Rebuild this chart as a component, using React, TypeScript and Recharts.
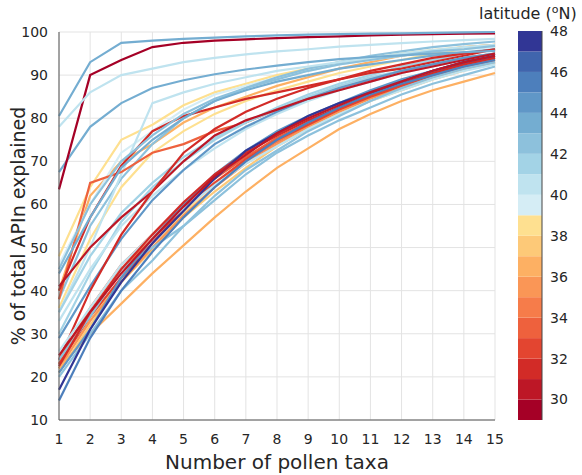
import { LineChart, Line, XAxis, YAxis, CartesianGrid, BarChart, Bar } from "recharts";

const TAXA = [1, 2, 3, 4, 5, 6, 7, 8, 9, 10, 11, 12, 13, 14, 15];
const Y_TICKS = [10, 20, 30, 40, 50, 60, 70, 80, 90, 100];
const LAT_TICKS = [30, 32, 34, 36, 38, 40, 42, 44, 46, 48];

// one colour per 1-degree latitude band, 29 -> 47
const LAT_BANDS = [29, 30, 31, 32, 33, 34, 35, 36, 37, 38, 39, 40, 41, 42, 43, 44, 45, 46, 47];
const BAND_COLORS = [
  "#a50026", "#bd1726", "#d22b27", "#e34530", "#ee613d", "#f67c4a", "#fa9656",
  "#fdb063", "#fdc978", "#fee090", "#d5edf5", "#bfe3ef", "#a3d3e6", "#8dc1dc",
  "#74add1", "#6097c7", "#4d7fbc", "#4065ad", "#313695",
];

// site latitude for each curve
const LATS = [
  41, 38, 38, 36, 39, 42, 40, 33, 31, 43, 42, 41, 40, 44,
  30, 31, 38, 37, 35, 34, 33, 32, 36, 42, 40, 44, 31, 42,
  45, 47, 30, 43, 29, 43, 40,
];

// cumulative % explained, x = 1..15 taxa
const CURVES = [
  [30, 44, 56, 64, 70, 75, 79, 82.5, 85.5, 88, 90, 92, 93.5, 95, 96],
  [48, 64, 75, 78.5, 83, 86, 88, 90, 91.5, 93, 94, 95, 95.8, 96.5, 97],
  [36, 52, 64, 72, 77, 81, 84, 86.5, 88.5, 90.5, 92, 93.5, 95, 96, 97],
  [40, 62, 70, 74, 79, 82.5, 85, 87.5, 89.5, 91.5, 93, 94.5, 95.5, 96.5, 97],
  [46, 60, 72, 77, 82, 85.5, 87.5, 89.5, 91, 92.5, 93.5, 94.5, 95.5, 96, 96.5],
  [38, 55, 66, 74, 80, 84, 87, 89.5, 91.5, 93, 94.5, 95.5, 96.5, 97.2, 97.8],
  [35, 50, 67, 83.5, 86, 88, 89.5, 91, 92, 93, 94, 95, 95.8, 96.5, 97],
  [38, 65, 67.5, 72, 74, 77, 79, 82, 84.5, 87, 89, 91, 92.5, 94, 95],
  [40, 57, 69, 77, 80.5, 82.5, 84.5, 86, 87.5, 89, 90.5, 91.5, 93, 94.5, 96],
  [44, 57, 68.5, 75, 80, 84, 86.5, 88.5, 90, 91.5, 92.5, 93.5, 94.5, 95.3, 96],
  [45, 60, 70, 76, 81, 84.5, 87, 89, 91, 92.5, 93.5, 94.5, 95.5, 96, 96.8],
  [35, 48, 58, 65, 71, 75.5, 79, 82, 85, 87.5, 89.5, 91, 92.5, 94, 95],
  [33, 45, 55, 62, 68, 73, 77.5, 81, 84, 86.5, 88.5, 90.5, 92, 93.5, 94.5],
  [29, 41, 52, 61, 68, 74, 78, 81.5, 84.5, 87, 89, 91, 92.5, 94, 95],
  [41, 50, 57, 63, 70, 76, 79.5, 82, 84.5, 86.5, 88.5, 90.5, 92, 93.5, 95],
  [24, 40, 53, 63, 72, 77.5, 81.5, 84.5, 87, 89, 91, 92.5, 94, 95, 96],
  [22, 33, 43, 50, 58, 65, 70, 75, 79, 82, 85, 87.5, 90, 92, 93.5],
  [21, 32, 42, 49.5, 57, 63, 68.5, 73.5, 77.5, 81, 84, 86.5, 89, 91, 93],
  [22, 33, 42, 50, 57.5, 64, 69.5, 74, 78, 81.5, 84.5, 87, 89.5, 91.5, 93],
  [23, 35, 45, 52, 59, 65, 70, 74.5, 78.5, 82, 85, 87.5, 90, 92, 93.5],
  [24, 36, 46, 53, 60, 66, 71, 75.5, 79, 82.5, 85.5, 88, 90.5, 92.5, 94],
  [23, 34, 43, 51, 59, 65, 70.5, 75, 78.5, 82, 85, 87.5, 90, 92, 93.5],
  [22, 30, 37, 44, 50.5, 57, 63, 68.5, 73, 77.5, 81, 84, 86.5, 88.5, 90.5],
  [24, 34, 45, 50, 55, 61, 67, 72, 76, 79.5, 82.5, 85.5, 88, 90, 92],
  [26, 36, 46, 53, 59, 64.5, 69.5, 73.5, 77.5, 81, 84, 86.5, 89, 91, 92.5],
  [21, 31, 43, 52, 60, 67, 72.5, 77, 80.5, 83.5, 86.5, 89, 91, 93, 94.5],
  [22.5, 35, 45, 53, 60.5, 67, 72, 76, 79.5, 82.5, 85.5, 88, 90.5, 92.5, 94],
  [20, 30, 40, 47, 55, 62, 68, 72.5, 77, 80.5, 84, 87, 89.5, 91.5, 93],
  [14.5, 29, 40, 49, 57, 64, 70, 75, 79, 82.5, 85.5, 88, 90, 92, 93.5],
  [17, 31, 42, 51, 58.5, 66, 72.5, 76.5, 80.5, 83.5, 86, 88.5, 91, 93, 94.5],
  [25, 35, 44, 52, 59.5, 66.5, 71.5, 76.5, 80, 83, 86, 88.5, 91, 93, 94.5],
  [67.5, 78, 83.5, 87, 88.8, 90.2, 91.3, 92.2, 93, 93.7, 94.2, 94.6, 95, 95.3, 95.6],
  [63.5, 90, 93.5, 96.5, 97.5, 98, 98.3, 98.6, 98.8, 99, 99.2, 99.4, 99.5, 99.6, 99.7],
  [80.5, 93, 97.5, 98, 98.4, 98.7, 99, 99.2, 99.4, 99.5, 99.6, 99.7, 99.8, 99.9, 100],
  [78, 86, 90, 91.5, 93, 94, 94.8, 95.5, 96, 96.6, 97, 97.4, 97.8, 98.1, 98.4],
];

const rows = TAXA.map((x, i) => {
  const row: Record<string, number> = { x };
  CURVES.forEach((c, k) => {
    row["s" + k] = c[i];
  });
  return row;
});

const barRow: Record<string, number | string> = { name: "lat", base: LAT_BANDS[0] };
LAT_BANDS.forEach((b) => {
  barRow["b" + b] = 1;
});

const FONT = "'DejaVu Sans', sans-serif";
const INK = "#262626";
const noTick = () => <g />;

export default function App() {
  const tickStyle = { fill: INK, fontSize: 14, fontFamily: FONT };
  return (
    <div style={{ position: "absolute", left: 0, top: 0, width: 582, height: 475, background: "#fff" }}>
      <div style={{ position: "absolute", left: 0, top: 0 }}>
        <LineChart width={582} height={475} data={rows} margin={{ top: 32, right: 87, bottom: 0, left: 0 }}>
          <CartesianGrid stroke="#e3e3e3" strokeWidth={1} />
          <XAxis
            dataKey="x"
            type="number"
            domain={[1, 15]}
            ticks={TAXA}
            height={55}
            tickLine={false}
            tickMargin={8}
            axisLine={{ stroke: "#555" }}
            tick={tickStyle}
            label={{ value: "Number of pollen taxa", position: "center", dy: 14, style: { fill: INK, fontSize: 20, fontFamily: FONT } }}
          />
          <XAxis xAxisId="top" orientation="top" type="number" domain={[1, 15]} ticks={TAXA} height={0} mirror tick={noTick} tickSize={5} axisLine={{ stroke: "#555" }} tickLine={{ stroke: "#555" }} />
          <XAxis xAxisId="bin" orientation="bottom" type="number" domain={[1, 15]} ticks={TAXA} height={0} mirror tick={noTick} tickSize={5} axisLine={false} tickLine={{ stroke: "#555" }} />
          <YAxis
            type="number"
            domain={[10, 100]}
            ticks={Y_TICKS}
            width={59}
            tickLine={false}
            tickMargin={5}
            axisLine={{ stroke: "#555" }}
            tick={tickStyle}
            label={{ value: "% of total APIn explained", angle: -90, position: "center", dx: -11, style: { fill: INK, fontSize: 19, fontFamily: FONT } }}
          />
          <YAxis yAxisId="right" orientation="right" type="number" domain={[10, 100]} ticks={Y_TICKS} width={0} mirror tick={noTick} tickSize={5} axisLine={{ stroke: "#555" }} tickLine={{ stroke: "#555" }} />
          <YAxis yAxisId="lin" orientation="left" type="number" domain={[10, 100]} ticks={Y_TICKS} width={0} mirror tick={noTick} tickSize={5} axisLine={false} tickLine={{ stroke: "#555" }} />
          {CURVES.map((_, k) => (
            <Line
              key={k}
              dataKey={"s" + k}
              stroke={BAND_COLORS[LATS[k] - LAT_BANDS[0]]}
              strokeWidth={2.2}
              dot={false}
              isAnimationActive={false}
            />
          ))}
        </LineChart>
      </div>
      <div style={{ position: "absolute", left: 510, top: 0 }}>
        <BarChart width={72} height={475} data={[barRow]} margin={{ top: 31, right: 0, bottom: 55, left: 8 }} barCategoryGap={0}>
          <XAxis dataKey="name" height={0} tick={false} tickLine={false} axisLine={{ stroke: "#444" }} />
          <XAxis xAxisId="t" dataKey="name" orientation="top" height={0} tick={false} tickLine={false} axisLine={{ stroke: "#444" }} />
          <YAxis
            orientation="right"
            type="number"
            domain={[29, 48]}
            allowDataOverflow
            ticks={LAT_TICKS}
            width={40}
            tickLine={false}
            tickMargin={2}
            axisLine={{ stroke: "#444" }}
            tick={tickStyle}
          />
          <YAxis yAxisId="l" orientation="left" type="number" domain={[29, 48]} width={0} tick={false} tickLine={false} axisLine={{ stroke: "#444" }} />
          <Bar dataKey="base" stackId="c" fill="transparent" isAnimationActive={false} />
          {LAT_BANDS.map((b, i) => (
            <Bar key={b} dataKey={"b" + b} stackId="c" fill={BAND_COLORS[i]} isAnimationActive={false} />
          ))}
        </BarChart>
      </div>
      <svg width={582} height={30} style={{ position: "absolute", left: 0, top: 0 }}>
        <text x={479} y={19} fontFamily={FONT} fontSize={16} fill={INK}>
          latitude (<tspan dy={-6} fontSize={11}>o</tspan>
          <tspan dy={6}>N)</tspan>
        </text>
      </svg>
    </div>
  );
}
